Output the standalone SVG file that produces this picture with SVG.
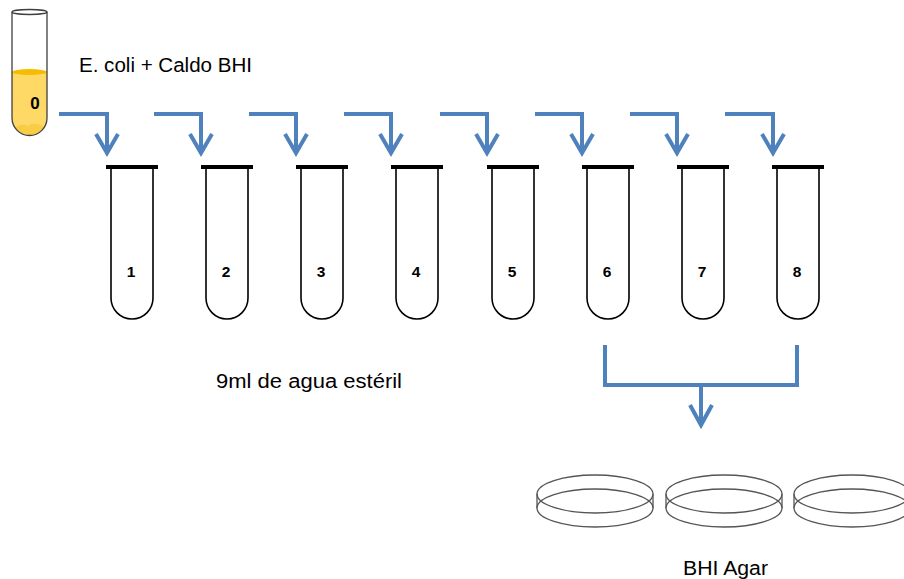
<svg xmlns="http://www.w3.org/2000/svg" width="904" height="579" viewBox="0 0 904 579">
  <defs>
    <style>
      .flow { fill: none; stroke: #4F81BD; stroke-width: 4; stroke-linejoin: miter; }
      .tube { fill: #FFFFFF; stroke: #000000; stroke-width: 1.6; }
      .cap { fill: #000000; }
      .num { font-family: "Liberation Sans", Arial, sans-serif; font-weight: bold; font-size: 15.5px; fill: #000000; text-anchor: middle; }
      .lbl { font-family: "Liberation Sans", Arial, sans-serif; font-size: 19.5px; fill: #000000; }
      .dish { fill: none; stroke: #555555; stroke-width: 1.3; }
    </style>
    <!-- empty test tube with black cap, origin at cap centre -->
    <g id="emptyTube">
      <rect class="cap" x="-26" y="-2" width="52" height="4"/>
      <path class="tube" d="M -21 2 V 131 A 21 21 0 0 0 21 131 V 2"/>
    </g>
    <!-- petri dish: two offset ellipses joined at the sides -->
    <g id="petri">
      <ellipse class="dish" cx="0" cy="0" rx="58" ry="19"/>
      <ellipse class="dish" cx="0" cy="14" rx="58" ry="19"/>
      <line class="dish" x1="-58" y1="0" x2="-58" y2="14"/>
      <line class="dish" x1="58" y1="0" x2="58" y2="14"/>
    </g>
  </defs>

  <rect width="904" height="579" fill="#FFFFFF"/>

  <!-- stock tube 0 with culture -->
  <g id="tube0">
    <path d="M 12 72 V 118 A 17.5 17.5 0 0 0 47 118 V 72 Z" fill="#FFD966"/>
    <ellipse cx="29.5" cy="72" rx="17.5" ry="3" fill="#F5BD00"/>
    <path d="M 15 128 Q 22 122 28 126 Q 34 121 44 127 Q 38 134 29.5 135 Q 20 134 15 128 Z" fill="#F5C330" opacity="0.6"/>
    <path d="M 12 12 V 118 A 17.5 17.5 0 0 0 47 118 V 12" fill="none" stroke="#404040" stroke-width="1.3"/>
    <ellipse cx="29.5" cy="12" rx="17.5" ry="2.5" fill="none" stroke="#404040" stroke-width="1.3"/>
    <text class="num" x="35" y="109" style="font-size:17px">0</text>
  </g>

  <text class="lbl" x="79" y="72" textLength="173" lengthAdjust="spacingAndGlyphs">E. coli + Caldo BHI</text>

  <!-- dilution tubes -->
  <g id="tube1"><use href="#emptyTube" x="132" y="167"/><text class="num" x="131" y="277">1</text></g>
  <g id="tube2"><use href="#emptyTube" x="227" y="167"/><text class="num" x="226" y="277">2</text></g>
  <g id="tube3"><use href="#emptyTube" x="322" y="167"/><text class="num" x="321" y="277">3</text></g>
  <g id="tube4"><use href="#emptyTube" x="417" y="167"/><text class="num" x="416" y="277">4</text></g>
  <g id="tube5"><use href="#emptyTube" x="513" y="167"/><text class="num" x="512" y="277">5</text></g>
  <g id="tube6"><use href="#emptyTube" x="608" y="167"/><text class="num" x="607" y="277">6</text></g>
  <g id="tube7"><use href="#emptyTube" x="703" y="167"/><text class="num" x="702" y="277">7</text></g>
  <g id="tube8"><use href="#emptyTube" x="798" y="167"/><text class="num" x="797" y="277">8</text></g>

  <text class="lbl" x="216" y="388" textLength="186" lengthAdjust="spacingAndGlyphs">9ml de agua estéril</text>

  <!-- plates -->
  <g id="plate1"><use href="#petri" x="595" y="494"/></g>
  <g id="plate2"><use href="#petri" x="724" y="494"/></g>
  <g id="plate3"><use href="#petri" x="852" y="494"/></g>

  <text class="lbl" x="683" y="575" textLength="85" lengthAdjust="spacingAndGlyphs">BHI Agar</text>

  <!-- transfer connectors -->
  <g id="connectors">
    <path class="flow" d="M 59 114 H 107 V 153 M 96 134 L 107 153 L 118 134"/>
    <path class="flow" d="M 154 114 H 201 V 153 M 190 134 L 201 153 L 212 134"/>
    <path class="flow" d="M 249 114 H 296 V 153 M 285 134 L 296 153 L 307 134"/>
    <path class="flow" d="M 344 114 H 391 V 153 M 380 134 L 391 153 L 402 134"/>
    <path class="flow" d="M 440 114 H 487 V 153 M 476 134 L 487 153 L 498 134"/>
    <path class="flow" d="M 535 114 H 582 V 153 M 571 134 L 582 153 L 593 134"/>
    <path class="flow" d="M 630 114 H 677 V 153 M 666 134 L 677 153 L 688 134"/>
    <path class="flow" d="M 725 114 H 773 V 153 M 762 134 L 773 153 L 784 134"/>
    <!-- tubes 6 and 8 to plates -->
    <path class="flow" d="M 605 345 V 385 H 797 V 345"/>
    <path class="flow" d="M 701 385 V 425 M 690 405 L 701 425 L 712 405"/>
  </g>
</svg>
